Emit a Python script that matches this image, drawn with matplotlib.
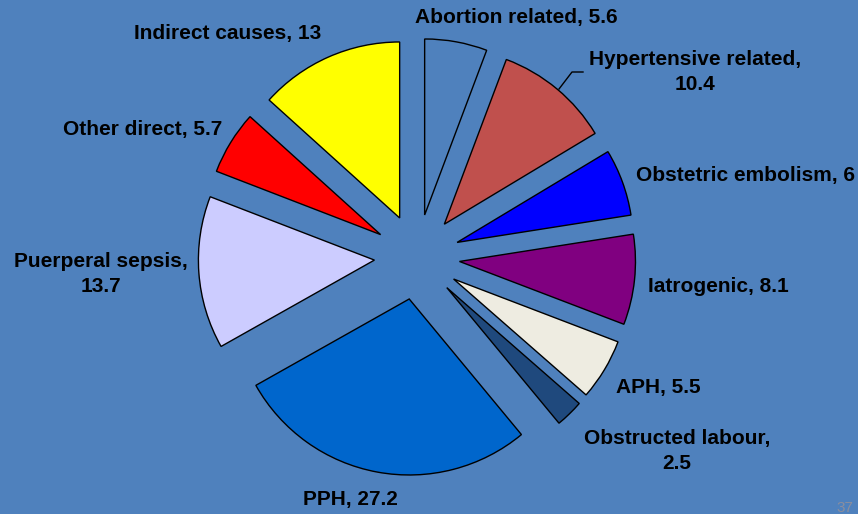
import matplotlib
matplotlib.use("Agg")
import matplotlib.pyplot as plt

categories = ["Abortion related", "Hypertensive related", "Obstetric embolism",
              "Iatrogenic", "APH", "Obstructed labour", "PPH",
              "Puerperal sepsis", "Other direct", "Indirect causes"]
values = [5.6, 10.4, 6, 8.1, 5.5, 2.5, 27.2, 13.7, 5.7, 13]
value_labels = ["5.6", "10.4", "6", "8.1", "5.5", "2.5", "27.2", "13.7", "5.7", "13"]
colors = ["#4F81BD", "#C0504D", "#0000FF", "#800080", "#EEECE1", "#1F497D",
          "#0066CC", "#CCCCFF", "#FF0000", "#FFFF00"]
# label text layout: separator between name and value
seps = [", ", ",\n", ", ", ", ", ", ", ",\n", ", ", ",\n", ", ", ", "]
label_pos = [(516, 17), (695, 72), (745, 175), (718, 287), (658, 388),
             (677, 451), (350, 500), (101, 274), (143, 130), (228, 33)]

W, H = 858, 514
bg = "#4F81BD"
fig = plt.figure(figsize=(W / 100, H / 100), dpi=100, facecolor=bg)
ax = fig.add_axes([0, 0, 1, 1])
ax.set_facecolor(bg)
ax.set_xlim(0, W)
ax.set_ylim(H, 0)
ax.axis("off")

# pie drawn in a y-up coordinate frame via a second axes
ax2 = fig.add_axes([0, 0, 1, 1])
ax2.patch.set_alpha(0)
ax2.pie(values, colors=colors, startangle=90, counterclock=False,
        center=(417, H - 257), radius=176, explode=[42.7] * len(values),
        wedgeprops=dict(edgecolor="black", linewidth=1.0), frame=True)
ax2.set_xlim(0, W)
ax2.set_ylim(0, H)
ax2.set_aspect("equal")
ax2.axis("off")

for cat, val, sep, (x, y) in zip(categories, value_labels, seps, label_pos):
    ax.text(x, y, f"{cat}{sep}{val}", ha="center", va="center",
            fontsize=15, fontweight="bold", family="Liberation Sans",
            color="black", linespacing=1.42)

# leader line for Hypertensive related
ax.plot([559, 572, 583], [89, 72, 72], color="black", lw=1)

ax.text(853, 508, "37", ha="right", va="center", fontsize=11,
        color="#8A8E9E", family="Liberation Sans")

fig.savefig("out.png", dpi=100, facecolor=bg)
